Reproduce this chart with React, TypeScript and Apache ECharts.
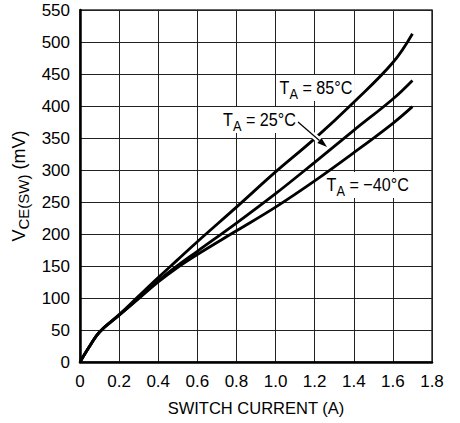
import React, { useEffect, useRef } from "react";
import * as echarts from "echarts";

const currentA = [0, 0.05, 0.1, 0.2, 0.3, 0.4, 0.5, 0.6, 0.8, 1.0, 1.2, 1.4, 1.6, 1.7];
const vce85 = [0, 25, 47, 74, 103, 132, 160, 188, 242, 297, 349, 406, 468, 513];
const vce25 = [0, 25, 47, 73, 100, 127, 151, 173, 217, 263, 312, 362, 411, 440];
const vceM40 = [0, 25, 47, 73, 99, 125, 148, 168, 205, 242, 283, 327, 373, 399];

const xTicks = ["0", "0.2", "0.4", "0.6", "0.8", "1.0", "1.2", "1.4", "1.6", "1.8"];
const seriesNames = ["85°C", "25°C", "−40°C"];

const FONT = "'Liberation Sans', Arial, sans-serif";

const pairs = (ys: number[]) => currentA.map((x, i) => [x, ys[i]]);

const subRich = {
  t: { fontSize: 19, lineHeight: 26, verticalAlign: "middle", fontFamily: FONT, fill: "#000" },
  s: { fontSize: 15, lineHeight: 16, verticalAlign: "bottom", fontFamily: FONT, fill: "#000" },
};

function label(x: number, y: number, temp: string) {
  return {
    type: "text",
    x,
    y,
    z: 1,
    scaleX: 0.85,
    style: {
      text: `{t|T}{s|A}{t| = ${temp}}`,
      rich: subRich,
      align: "left",
      verticalAlign: "top",
      backgroundColor: "#fff",
      padding: [0, 3, 0, 3],
      fill: "#000",
    },
  };
}

export default function App() {
  const ref = useRef<HTMLDivElement>(null);
  useEffect(() => {
    document.body.style.margin = "0";
    const chart = echarts.init(ref.current!, null, { renderer: "svg" });
    const lineSeries = (name: string, ys: number[]) => ({
      type: "line",
      name,
      data: pairs(ys),
      smooth: 0.4,
      showSymbol: false,
      symbol: "none",
      lineStyle: { color: "#000", width: 2.8 },
      z: 2,
    });
    // arrow geometry (annotation)
    const sx = 298, sy = 122, tx = 327, ty = 147;
    const dx = tx - sx, dy = ty - sy;
    const len = Math.sqrt(dx * dx + dy * dy);
    const ux = dx / len, uy = dy / len;
    const bx = tx - 10 * ux, by = ty - 10 * uy;
    const px = -uy, py = ux;
    chart.setOption({
      animation: false,
      textStyle: { fontFamily: FONT },
      grid: {
        left: 80,
        right: 28,
        top: 10,
        bottom: 61,
        containLabel: false,
        outerBoundsMode: "none",
        show: true,
        borderColor: "#333",
        borderWidth: 1.5,
      },
      xAxis: {
        type: "value",
        min: 0,
        max: 1.8,
        interval: 0.2,
        name: "SWITCH CURRENT (A)",
        nameLocation: "middle",
        nameGap: 37,
        nameTextStyle: { fontSize: 16.5, lineHeight: 18, color: "#000", fontFamily: FONT },
        axisLine: { show: true, lineStyle: { color: "#000", width: 2.5 } },
        axisTick: { show: false },
        axisLabel: {
          fontSize: 17,
          lineHeight: 18,
          color: "#000",
          margin: 10,
          fontFamily: FONT,
          formatter: (v: number) => xTicks[Math.round(v / 0.2)] ?? String(v),
        },
        splitLine: { show: true, lineStyle: { color: "#222", width: 1 } },
      },
      yAxis: {
        type: "value",
        min: 0,
        max: 550,
        interval: 50,
        name: "{t|V}{s|CE(SW)}{t| (mV)}",
        nameLocation: "middle",
        nameGap: 42,
        nameTextStyle: {
          color: "#000",
          fontFamily: FONT,
          rich: {
            t: { fontSize: 18, lineHeight: 24, verticalAlign: "middle", fontFamily: FONT, color: "#000" },
            s: { fontSize: 15, lineHeight: 16, verticalAlign: "bottom", fontFamily: FONT, color: "#000" },
          },
        },
        axisLine: { show: true, lineStyle: { color: "#000", width: 2.5 } },
        axisTick: { show: false },
        axisLabel: { fontSize: 17, color: "#000", margin: 10, fontFamily: FONT },
        splitLine: { show: true, lineStyle: { color: "#222", width: 1 } },
      },
      series: [
        lineSeries(seriesNames[0], vce85),
        lineSeries(seriesNames[1], vce25),
        lineSeries(seriesNames[2], vceM40),
      ],
      graphic: [
        label(277, 75, seriesNames[0]),
        label(220.5, 107, seriesNames[1]),
        label(324, 172, seriesNames[2]),
        {
          type: "line",
          z: 3,
          shape: { x1: 309, y1: 131.5, x2: 322, y2: 142.7 },
          style: { stroke: "#fff", lineWidth: 6 },
        },
        {
          type: "line",
          z: 4,
          shape: { x1: sx, y1: sy, x2: bx, y2: by },
          style: { stroke: "#000", lineWidth: 1.2 },
        },
        {
          type: "polygon",
          z: 4,
          shape: {
            points: [
              [tx, ty],
              [bx + 3.2 * px, by + 3.2 * py],
              [bx - 3.2 * px, by - 3.2 * py],
            ],
          },
          style: { fill: "#000" },
        },
      ],
    });
    return () => chart.dispose();
  }, []);
  return <div ref={ref} style={{ width: 460, height: 423 }} />;
}
